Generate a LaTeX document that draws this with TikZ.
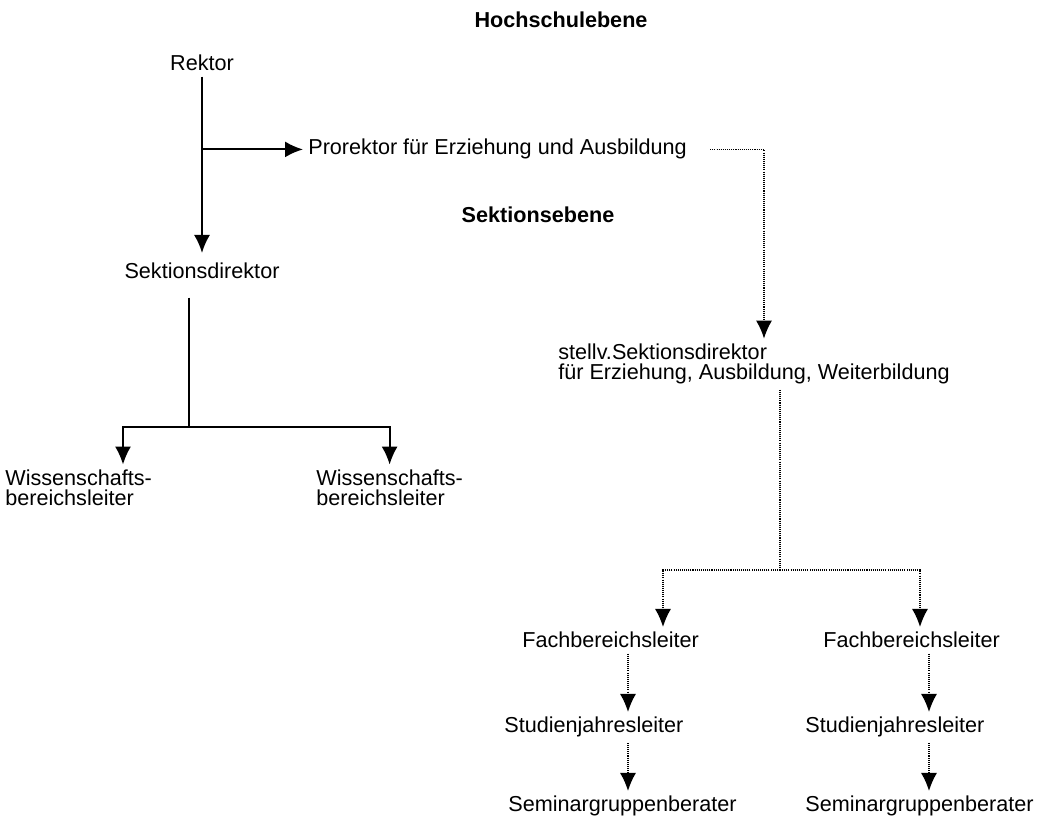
\documentclass[tikz,border=0pt]{standalone}
\usepackage{fontspec}
\setmainfont{Liberation Sans}
\usetikzlibrary{calc, positioning, arrows.meta}

\begin{document}
\begin{tikzpicture}[x=0.2mm, y=-0.2mm,
    every node/.style={font=\fontsize{12.3}{11.6}\selectfont, inner sep=1mm},
    head/.style={font=\fontsize{12.3}{11.6}\selectfont\bfseries},
    solidarrow/.style={line width=1.1pt, -{Latex[length=3.6mm, width=3.2mm]}},
    solidline/.style={line width=1.1pt},
    dotline/.style={line width=0.8pt, dash pattern=on 0.6pt off 0.6pt},
    dotarrow/.style={dotline, -{Latex[length=3.6mm, width=3.2mm]}}]
    \useasboundingbox (0,0) rectangle (1047,817);

    % level headings
    \node[head, anchor=base] (hochschule) at (561,28) {Hochschulebene};
    \node[head, anchor=base] (sektion) at (538,223) {Sektionsebene};

    % left branch: Rektor down to Sektionsdirektor
    \node[anchor=base] (rektor) at (202,71) {Rektor};
    \node[anchor=base west] (prorektor) at (303,155) {Prorektor f\"ur Erziehung und Ausbildung};
    \node[anchor=base] (sektdir) at (202,279) {Sektionsdirektor};
    \draw[solidarrow, shorten >=1mm] (rektor) -- (sektdir);
    \draw[solidarrow] (rektor.south |- prorektor.west) -- (prorektor.west);

    % Wissenschaftsbereichsleiter: split below Sektionsdirektor
    \node[anchor=base west, align=left] (wiss1) at (0,506) {Wissenschafts-\\bereichsleiter};
    \node[anchor=base west, align=left] (wiss2) at (311,506) {Wissenschafts-\\bereichsleiter};
    \coordinate (sdsplit) at (189,427);
    \coordinate (wa) at (123,0);
    \draw[solidline, shorten <=2.6mm] (sektdir.south -| sdsplit) -- (sdsplit);
    \draw[solidarrow] (sdsplit) -| (wa |- wiss1.north);
    \draw[solidarrow] (sdsplit) -| (wiss2.north);

    % right branch (dotted): Prorektor down to stellv. Sektionsdirektor
    \node[anchor=base west, align=left] (stellv) at (553,380)
        {stellv.Sektionsdirektor\\f\"ur Erziehung, Ausbildung, Weiterbildung};
    \draw[dotarrow, shorten <=3.6mm] (prorektor.east) -| ([xshift=2mm] stellv.north);

    % two columns: Fachbereichsleiter -> Studienjahresleiter -> Seminargruppenberater
    \node[anchor=base west] (fach1) at (517,648) {Fachbereichsleiter};
    \node[anchor=base west] (stud1) at (499,733) {Studienjahresleiter};
    \node[anchor=base west] (semi1) at (503,812) {Seminargruppenberater};
    \node[anchor=base west] (fach2) at (818,648) {Fachbereichsleiter};
    \node[anchor=base west] (stud2) at (800,733) {Studienjahresleiter};
    \node[anchor=base west] (semi2) at (800,812) {Seminargruppenberater};

    \coordinate (split) at (780,570);
    \coordinate (brA) at (663,0);
    \coordinate (brB) at (920,0);
    \coordinate (colA) at (628,0);
    \coordinate (colB) at (929,0);
    \draw[dotline] (stellv.south -| split) -- (split);
    \draw[dotarrow] (split) -| (brA |- fach1.north);
    \draw[dotarrow] (split) -| (brB |- fach2.north);

    \draw[dotarrow] (fach1.south -| colA) -- (stud1.north -| colA);
    \draw[dotarrow] (stud1.south -| colA) -- (semi1.north -| colA);
    \draw[dotarrow] (fach2.south -| colB) -- (stud2.north -| colB);
    \draw[dotarrow] (stud2.south -| colB) -- (semi2.north -| colB);
\end{tikzpicture}
\end{document}
